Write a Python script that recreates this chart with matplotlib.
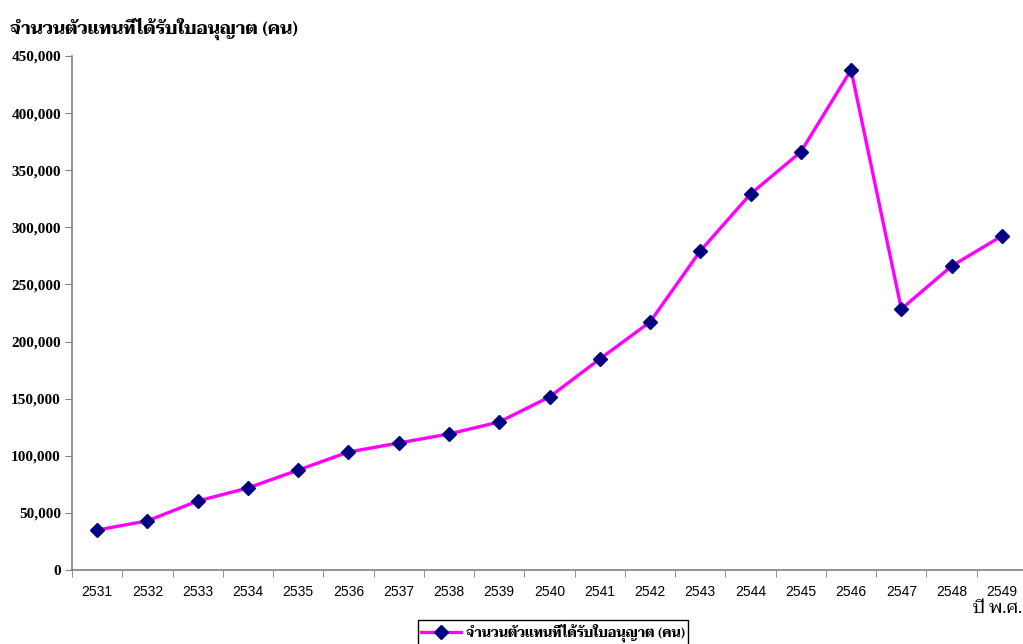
import matplotlib
matplotlib.use("Agg")
import matplotlib.pyplot as plt
import numpy as np

# จำนวนตัวแทนที่ได้รับใบอนุญาต รายปี
years = ['2531', '2532', '2533', '2534', '2535', '2536', '2537', '2538', '2539', '2540',
         '2541', '2542', '2543', '2544', '2545', '2546', '2547', '2548', '2549']
agents = [35000, 43000, 60400, 71800, 87500, 103300, 111200, 119100, 129600, 151500,
          184700, 217100, 279300, 329200, 366000, 437800, 228500, 266100, 292400]
y_ticks = [0, 50000, 100000, 150000, 200000, 250000, 300000, 350000, 400000, 450000]

thai = ['Taviraj', 'DejaVu Sans']
series_name = 'จำนวนตัวแทนที่ได้รับใบอนุญาต (คน)'

fig = plt.figure(figsize=(10.23, 6.44), dpi=100)
ax = fig.add_axes([72 / 1023, 74 / 644, 955 / 1023, 514 / 644])

x = np.arange(len(years))
line, = ax.plot(x, agents, color='#ff00ff', linewidth=2.4, marker='D',
                markersize=7, markerfacecolor='#000080', markeredgecolor='#000080',
                label=series_name)

ax.set_xlim(-0.5, len(years) - 0.5)
ax.set_ylim(0, 450000)

ax.set_xticks(x)
ax.set_xticklabels(years, family='Liberation Sans', fontsize=10)
ax.set_xticks(np.arange(-0.5, len(years), 1), minor=True)
ax.tick_params(axis='x', which='major', length=0, pad=11)
ax.tick_params(axis='x', which='minor', length=5, color='#808080')

ax.set_yticks(y_ticks)
ax.set_yticklabels(['{:,}'.format(v) for v in y_ticks],
                   family='Liberation Serif', fontweight='bold', fontsize=11)
ax.tick_params(axis='y', length=5, color='#808080', pad=3)

for side in ['top', 'right']:
    ax.spines[side].set_visible(False)
for side in ['left', 'bottom']:
    ax.spines[side].set_color('#808080')
    ax.spines[side].set_linewidth(1.2)

fig.text(10 / 1023, 1 - 29 / 644, series_name, family=thai, fontweight='bold',
         fontsize=12.5, va='center', ha='left')
fig.text(1022 / 1023, 1 - 608 / 644, 'ปี พ.ศ.', family=thai, fontsize=13,
         va='center', ha='right')

leg = fig.legend(handles=[line], loc='upper center',
                 bbox_to_anchor=(553 / 1023, 1 - 620 / 644),
                 prop={'family': thai, 'weight': 'bold', 'size': 9.5},
                 fancybox=False, edgecolor='black', framealpha=1,
                 handlelength=3, borderpad=0.25, handletextpad=0.4,
                 borderaxespad=0)
leg.get_frame().set_linewidth(1)

fig.savefig('out.png')
